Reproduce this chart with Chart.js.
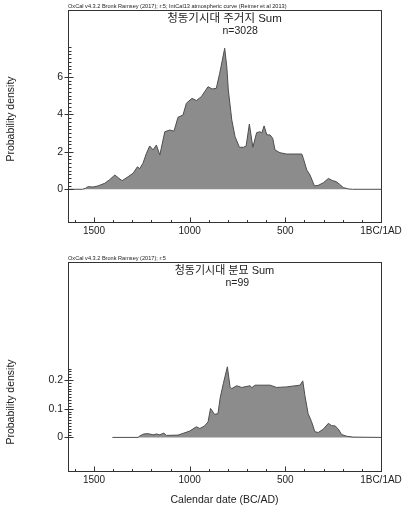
<!DOCTYPE html>
<html>
<head>
<meta charset="utf-8">
<script src="https://cdn.jsdelivr.net/npm/chart.js@4.4.1/dist/chart.umd.min.js"></script>
<style>
  html, body { margin: 0; padding: 0; background: #fff; }
  #wrap { position: relative; width: 405px; height: 505px; }
  canvas { position: absolute; left: 0; }
  #topChart { top: 0; }
  #botChart { top: 250px; }
</style>
</head>
<body>
<div id="wrap">
  <canvas id="topChart" width="405" height="250"></canvas>
  <canvas id="botChart" width="405" height="255"></canvas>
</div>
<script>
// ─── Data ──────────────────────────────────────────────────────────────────────
const xTickYears = [1500, 1000, 500, 0];
const xTickLabels = ["1500", "1000", "500", "1BC/1AD"];

// 청동기시대 주거지 (years BC)
const topYears = [1636, 1560, 1545, 1531, 1505, 1479, 1444, 1420, 1391, 1372, 1353, 1322, 1296, 1273, 1261,
  1244, 1226, 1209, 1191, 1174, 1156, 1130, 1104, 1082, 1061, 1035, 1017, 988, 965, 939, 904, 883, 861,
  843, 817, 806, 798, 780, 763, 740, 719, 705, 688, 670, 650, 632, 623, 611, 597, 580, 566, 554, 528,
  493, 414, 406, 388, 371, 348, 328, 301, 275, 252, 235, 218, 197, 171, 150, 0];
const topDensity = [0, 0, 0.05, 0.14, 0.12, 0.18, 0.32, 0.5, 0.76, 0.6, 0.46, 0.67, 0.85, 1.2, 1.1,
  1.39, 1.92, 2.31, 2.1, 2.36, 1.83, 3.07, 3.16, 3.1, 3.84, 3.96, 4.59, 4.85, 4.73, 4.94, 5.47, 5.35, 5.38,
  6.19, 7.52, 6.54, 5.3, 3.7, 2.81, 2.24, 2.24, 2.31, 3.48, 2.24, 3.02, 3.07, 3.0, 3.38, 2.9, 2.9, 2.72, 2.1, 1.95,
  1.88, 1.88, 1.65, 1.03, 0.76, 0.18, 0.21, 0.35, 0.58, 0.46, 0.41, 0.28, 0.09, 0.02, 0, 0];
const topYTicks = [0, 2, 4, 6];

// 청동기시대 분묘 (years BC)
const botYears = [1404, 1270, 1261, 1240, 1217, 1191, 1174, 1156, 1135, 1122, 1061, 1035, 1000, 965, 947,
  922, 904, 891, 870, 852, 841, 824, 803, 789, 780, 754, 728, 684, 676, 658, 580, 545, 493, 423, 409,
  398, 381, 363, 346, 328, 301, 275, 258, 240, 223, 206, 179, 145, 0];
const botDensity = [0, 0, 0.005, 0.012, 0.013, 0.009, 0.012, 0.009, 0.015, 0.007, 0.008, 0.014, 0.022, 0.037, 0.031,
  0.04, 0.054, 0.101, 0.08, 0.083, 0.136, 0.188, 0.246, 0.176, 0.17, 0.18, 0.174, 0.18, 0.173, 0.182, 0.182, 0.174, 0.176, 0.182, 0.197,
  0.147, 0.083, 0.055, 0.02, 0.017, 0.029, 0.049, 0.041, 0.04, 0.029, 0.01, 0.004, 0.001, 0];
const botYTicks = [0, 0.1, 0.2];

const FONT = "'Liberation Sans', Arial, sans-serif";
const KFONT = "'Liberation Sans', 'Noto Sans CJK KR', sans-serif";
const INK = "#222";

// ─── Frame, minor ticks and OxCal-style texts ─────────────────────────────────
const oxFrame = {
  id: "oxFrame",
  afterDraw(chart, args, o) {
    const { ctx, chartArea: a, scales: { x, y } } = chart;
    const L = Math.round(a.left) + 0.5, B = Math.round(a.bottom) + 0.5;
    ctx.save();
    ctx.strokeStyle = "#333";
    ctx.lineWidth = 1;
    ctx.strokeRect(L, Math.round(a.top) + 0.5, Math.round(a.right - a.left), Math.round(a.bottom - a.top));

    ctx.beginPath();
    for (let i = 0; i * o.minorStep <= o.minorMax + 1e-9; i++) {
      const py = Math.round(y.getPixelForValue(i * o.minorStep)) + 0.5;
      ctx.moveTo(L, py); ctx.lineTo(L + 3, py);
    }
    o.yTicks.forEach(v => {
      const py = Math.round(y.getPixelForValue(v)) + 0.5;
      ctx.moveTo(L - 4, py); ctx.lineTo(L + 5, py);
    });
    for (let yr = 100; yr < x.max; yr += 100) {
      const px = Math.round(x.getPixelForValue(yr)) + 0.5;
      const len = yr % 500 === 0 ? 5 : 2.5;
      ctx.moveTo(px, B); ctx.lineTo(px, B - len);
    }
    ctx.stroke();

    const cx = (a.left + a.right) / 2;
    ctx.fillStyle = INK;
    ctx.textAlign = "left";
    ctx.textBaseline = "alphabetic";
    ctx.font = "5.6px " + FONT;
    ctx.fillText(o.header, a.left, a.top - 2.5);

    ctx.textBaseline = "middle";
    ctx.textAlign = "center";
    ctx.font = o.titleSize + "px " + KFONT;
    ctx.fillText(o.title, cx, a.top + 9);

    ctx.textAlign = "left";
    ctx.font = "10.5px " + FONT;
    ctx.fillText(o.n, cx + o.nShift, a.top + 21);

    if (o.xTitle) {
      ctx.textAlign = "center";
      ctx.fillText(o.xTitle, cx, o.xTitleY);
    }

    ctx.translate(11, o.yTitleY);
    ctx.rotate(-Math.PI / 2);
    ctx.textAlign = "center";
    ctx.fillText("Probability density", 0, 0);
    ctx.restore();
  }
};

function makeChart(id, years, dens, yMin, yMax, yTicks, padTop, xAxisH, frameOpts) {
  return new Chart(document.getElementById(id), {
    type: "line",
    data: {
      datasets: [{
        data: years.map((yr, i) => ({ x: yr, y: dens[i] })),
        fill: "origin",
        backgroundColor: "#8c8c8c",
        borderColor: "#4d4d4d",
        borderWidth: 1,
        pointRadius: 0,
        tension: 0
      }]
    },
    options: {
      responsive: false,
      animation: false,
      layout: { padding: { top: padTop, right: 24, left: 0, bottom: 0 } },
      plugins: {
        legend: { display: false },
        tooltip: { enabled: false },
        oxFrame: frameOpts
      },
      scales: {
        x: {
          type: "linear", reverse: true, min: 0, max: 1636,
          afterBuildTicks: s => { s.ticks = xTickYears.map(v => ({ value: v })); },
          afterFit: s => { s.height = xAxisH; s.paddingLeft = 0; s.paddingRight = 0; },
          ticks: {
            autoSkip: false, maxRotation: 0, padding: 3, color: INK,
            font: { family: FONT, size: 10 },
            callback: v => xTickLabels[xTickYears.indexOf(v)]
          },
          grid: { display: false, drawTicks: false },
          border: { display: false }
        },
        y: {
          type: "linear", min: yMin, max: yMax,
          afterBuildTicks: s => { s.ticks = yTicks.map(v => ({ value: v })); },
          afterFit: s => { s.width = 68; s.paddingTop = 0; s.paddingBottom = 0; },
          ticks: { padding: 5, color: INK, font: { family: FONT, size: 10.5 }, callback: v => String(v) },
          grid: { display: false, drawTicks: false },
          border: { display: false }
        }
      }
    },
    plugins: [oxFrame]
  });
}

makeChart("topChart", topYears, topDensity, -1.744, 9.56, topYTicks, 10, 28, {
  header: "OxCal v4.3.2 Bronk Ramsey (2017); r:5; IntCal13 atmospheric curve (Reimer et al 2013)",
  title: "청동기시대 주거지 Sum", titleSize: 11.5,
  n: "n=3028", nShift: -2,
  minorStep: 0.2, minorMax: 7.6, yTicks: topYTicks,
  yTitleY: 119
});

makeChart("botChart", botYears, botDensity, -0.117, 0.611, botYTicks, 12, 34, {
  header: "OxCal v4.3.2 Bronk Ramsey (2017); r:5",
  title: "청동기시대 분묘 Sum", titleSize: 11,
  n: "n=99", nShift: 1,
  minorStep: 0.01, minorMax: 0.24, yTicks: botYTicks,
  yTitleY: 152,
  xTitle: "Calendar date (BC/AD)", xTitleY: 250
});
</script>
</body>
</html>
